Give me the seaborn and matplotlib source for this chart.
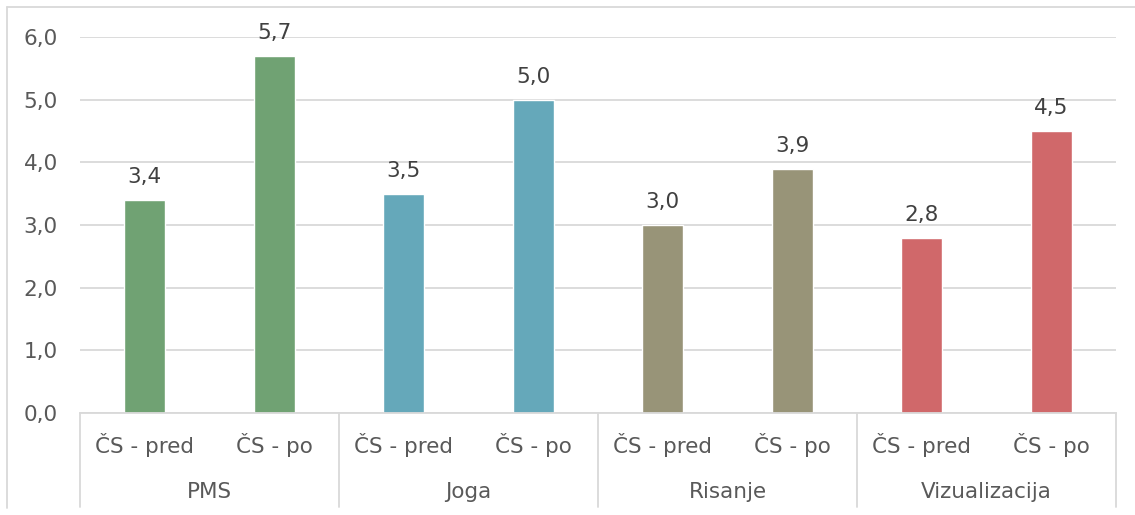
import matplotlib
matplotlib.use("Agg")
import matplotlib.pyplot as plt
from matplotlib.lines import Line2D
import seaborn as sns
import pandas as pd

# Data
groups = ["PMS", "Joga", "Risanje", "Vizualizacija"]
phases = ["ČS - pred", "ČS - po"]
values = [3.4, 5.7, 3.5, 5.0, 3.0, 3.9, 2.8, 4.5]
colors = ["#70A273", "#65A8BA", "#989478", "#D0686A"]
yticks = [0.0, 1.0, 2.0, 3.0, 4.0, 5.0, 6.0]

rows = []
for gi, g in enumerate(groups):
    for pi, p in enumerate(phases):
        rows.append({"pos": f"{g}|{p}", "group": g, "phase": p,
                     "value": values[gi * len(phases) + pi]})
df = pd.DataFrame(rows)

sns.set_theme(style="white")
plt.rcParams["font.family"] = ["DejaVu Sans"]
FS = 15.5

W, H = 1135, 515
fig = plt.figure(figsize=(W / 100, H / 100), dpi=100)
left, right, top, bottom = 80, 1116, 37, 413
ax = fig.add_axes([left / W, 1 - bottom / H, (right - left) / W, (bottom - top) / H])

sns.barplot(data=df, x="pos", y="value", hue="group", palette=colors,
            dodge=False, width=0.317, legend=False, ax=ax, saturation=1)

ax.set_ylim(0, 6)
ax.set_xlim(-0.5, len(df) - 0.5)
ax.set_yticks(yticks)
ax.set_yticklabels([f"{v:.1f}".replace(".", ",") for v in yticks],
                   fontsize=FS, color="#595959")
ax.tick_params(axis="y", length=0, pad=16)
ax.yaxis.grid(True, color="#D9D9D9", linewidth=1.3)
ax.set_axisbelow(True)
for s in ["top", "right", "left"]:
    ax.spines[s].set_visible(False)
ax.spines["bottom"].set_color("#D9D9D9")
ax.spines["bottom"].set_linewidth(1.3)
ax.set_xticks([])
ax.set_xlabel("")
ax.set_ylabel("")

# Value labels
for container in ax.containers:
    ax.bar_label(container, labels=[f"{b.get_height():.1f}".replace(".", ",")
                                    for b in container],
                 padding=9, fontsize=FS, color="#404040", clip_on=False)

# Two-level category axis
trans = ax.get_xaxis_transform()
n_phase = len(phases)
for i, row in df.iterrows():
    ax.text(i, -0.085, row["phase"], transform=trans, ha="center", va="center",
            fontsize=FS, color="#595959")
for gi, g in enumerate(groups):
    center = gi * n_phase + (n_phase - 1) / 2
    ax.text(center, -0.21, g, transform=trans, ha="center", va="center",
            fontsize=FS, color="#595959")
for k in range(len(groups) + 1):
    xb = k * n_phase - 0.5
    ax.add_line(Line2D([xb, xb], [0, -0.25], transform=trans, color="#D9D9D9",
                       linewidth=1.3, clip_on=False))

# Chart frame
fig.add_artist(Line2D([7 / W, 7 / W], [1 - 7 / H, 1 - 508 / H],
                      transform=fig.transFigure, color="#D9D9D9", linewidth=1.3))
fig.add_artist(Line2D([7 / W, 1], [1 - 7 / H, 1 - 7 / H],
                      transform=fig.transFigure, color="#D9D9D9", linewidth=1.3))

fig.savefig("out.png", dpi=100, facecolor="white")
